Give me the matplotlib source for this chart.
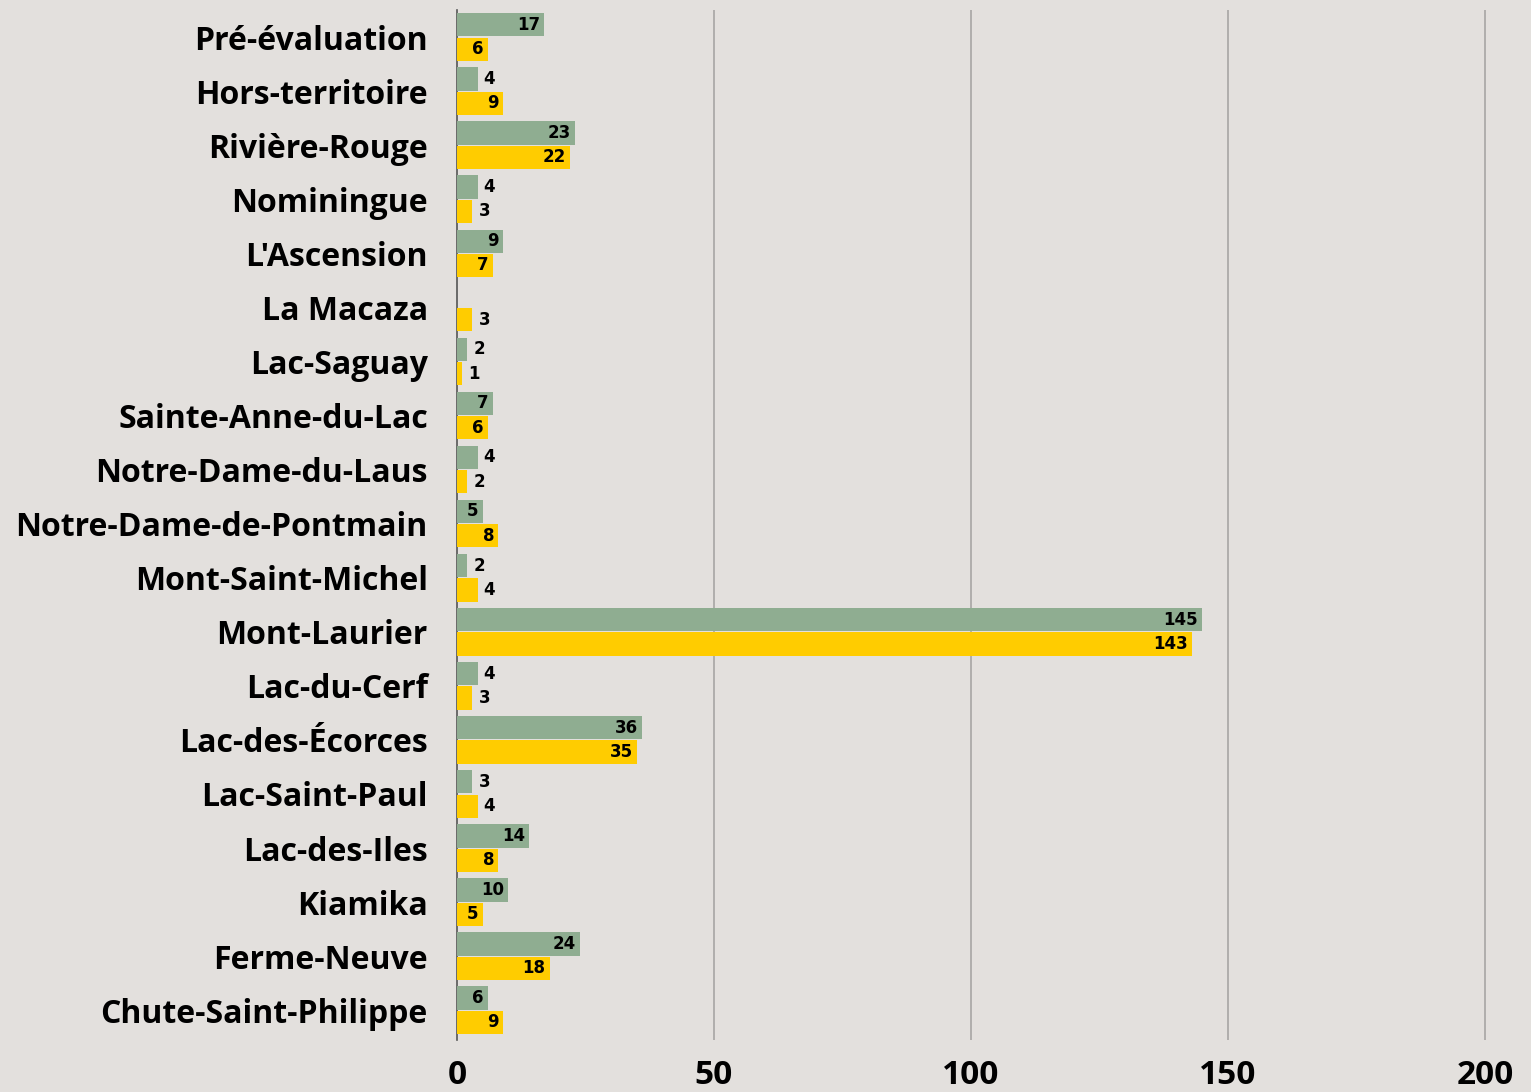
import numpy as np
import matplotlib.pyplot as plt

categories = ["Pré-évaluation", "Hors-territoire", "Rivière-Rouge", "Nominingue",
              "L'Ascension", "La Macaza", "Lac-Saguay", "Sainte-Anne-du-Lac",
              "Notre-Dame-du-Laus", "Notre-Dame-de-Pontmain", "Mont-Saint-Michel",
              "Mont-Laurier", "Lac-du-Cerf", "Lac-des-Écorces", "Lac-Saint-Paul",
              "Lac-des-Iles", "Kiamika", "Ferme-Neuve", "Chute-Saint-Philippe"]
green_vals = [17, 4, 23, 4, 9, 0, 2, 7, 4, 5, 2, 145, 4, 36, 3, 14, 10, 24, 6]
yellow_vals = [6, 9, 22, 3, 7, 3, 1, 6, 2, 8, 4, 143, 3, 35, 4, 8, 5, 18, 9]
x_ticks = [0, 50, 100, 150, 200]

bg = "#e3e0dd"
green = "#8fad91"
yellow = "#ffcc00"

fig = plt.figure(figsize=(15.31, 10.92), dpi=100, facecolor=bg)
ax = fig.add_axes([457 / 1531, 1 - 1040 / 1092, (1526 - 457) / 1531, 1030 / 1092])
ax.set_facecolor(bg)

y = np.arange(len(categories))
h = 0.43
off = 0.225
ax.barh(y - off, green_vals, height=h, color=green, zorder=3)
ax.barh(y + off, yellow_vals, height=h, color=yellow, zorder=3)


def label(vals, ypos):
    for v, yy in zip(vals, ypos):
        if v == 0:
            continue
        if v >= 5:
            ax.text(v - 0.8, yy, str(v), ha="right", va="center", fontsize=12,
                    fontweight="bold", zorder=4)
        else:
            ax.text(v + 1.2, yy, str(v), ha="left", va="center", fontsize=12,
                    fontweight="bold", zorder=4)


label(green_vals, y - off)
label(yellow_vals, y + off)

ax.set_ylim(len(categories) - 0.45, -0.5)
ax.set_xlim(0, 208)
ax.set_yticks(y)
ax.set_yticklabels(categories, fontsize=23, fontweight="bold", family="Open Sans")
ax.set_xticks(x_ticks)
ax.set_xticklabels([str(t) for t in x_ticks], fontsize=24, fontweight="bold",
                   family="Open Sans")
ax.tick_params(length=0, pad=21, axis="y")
ax.tick_params(length=0, pad=14, axis="x")
for t in x_ticks[1:]:
    ax.axvline(t, color="#a8a6a4", lw=1.2, zorder=1)
for s in ["top", "right", "bottom"]:
    ax.spines[s].set_visible(False)
ax.spines["left"].set_color("#555555")
ax.spines["left"].set_linewidth(1.2)

plt.savefig("out.png", dpi=100, facecolor=bg)
